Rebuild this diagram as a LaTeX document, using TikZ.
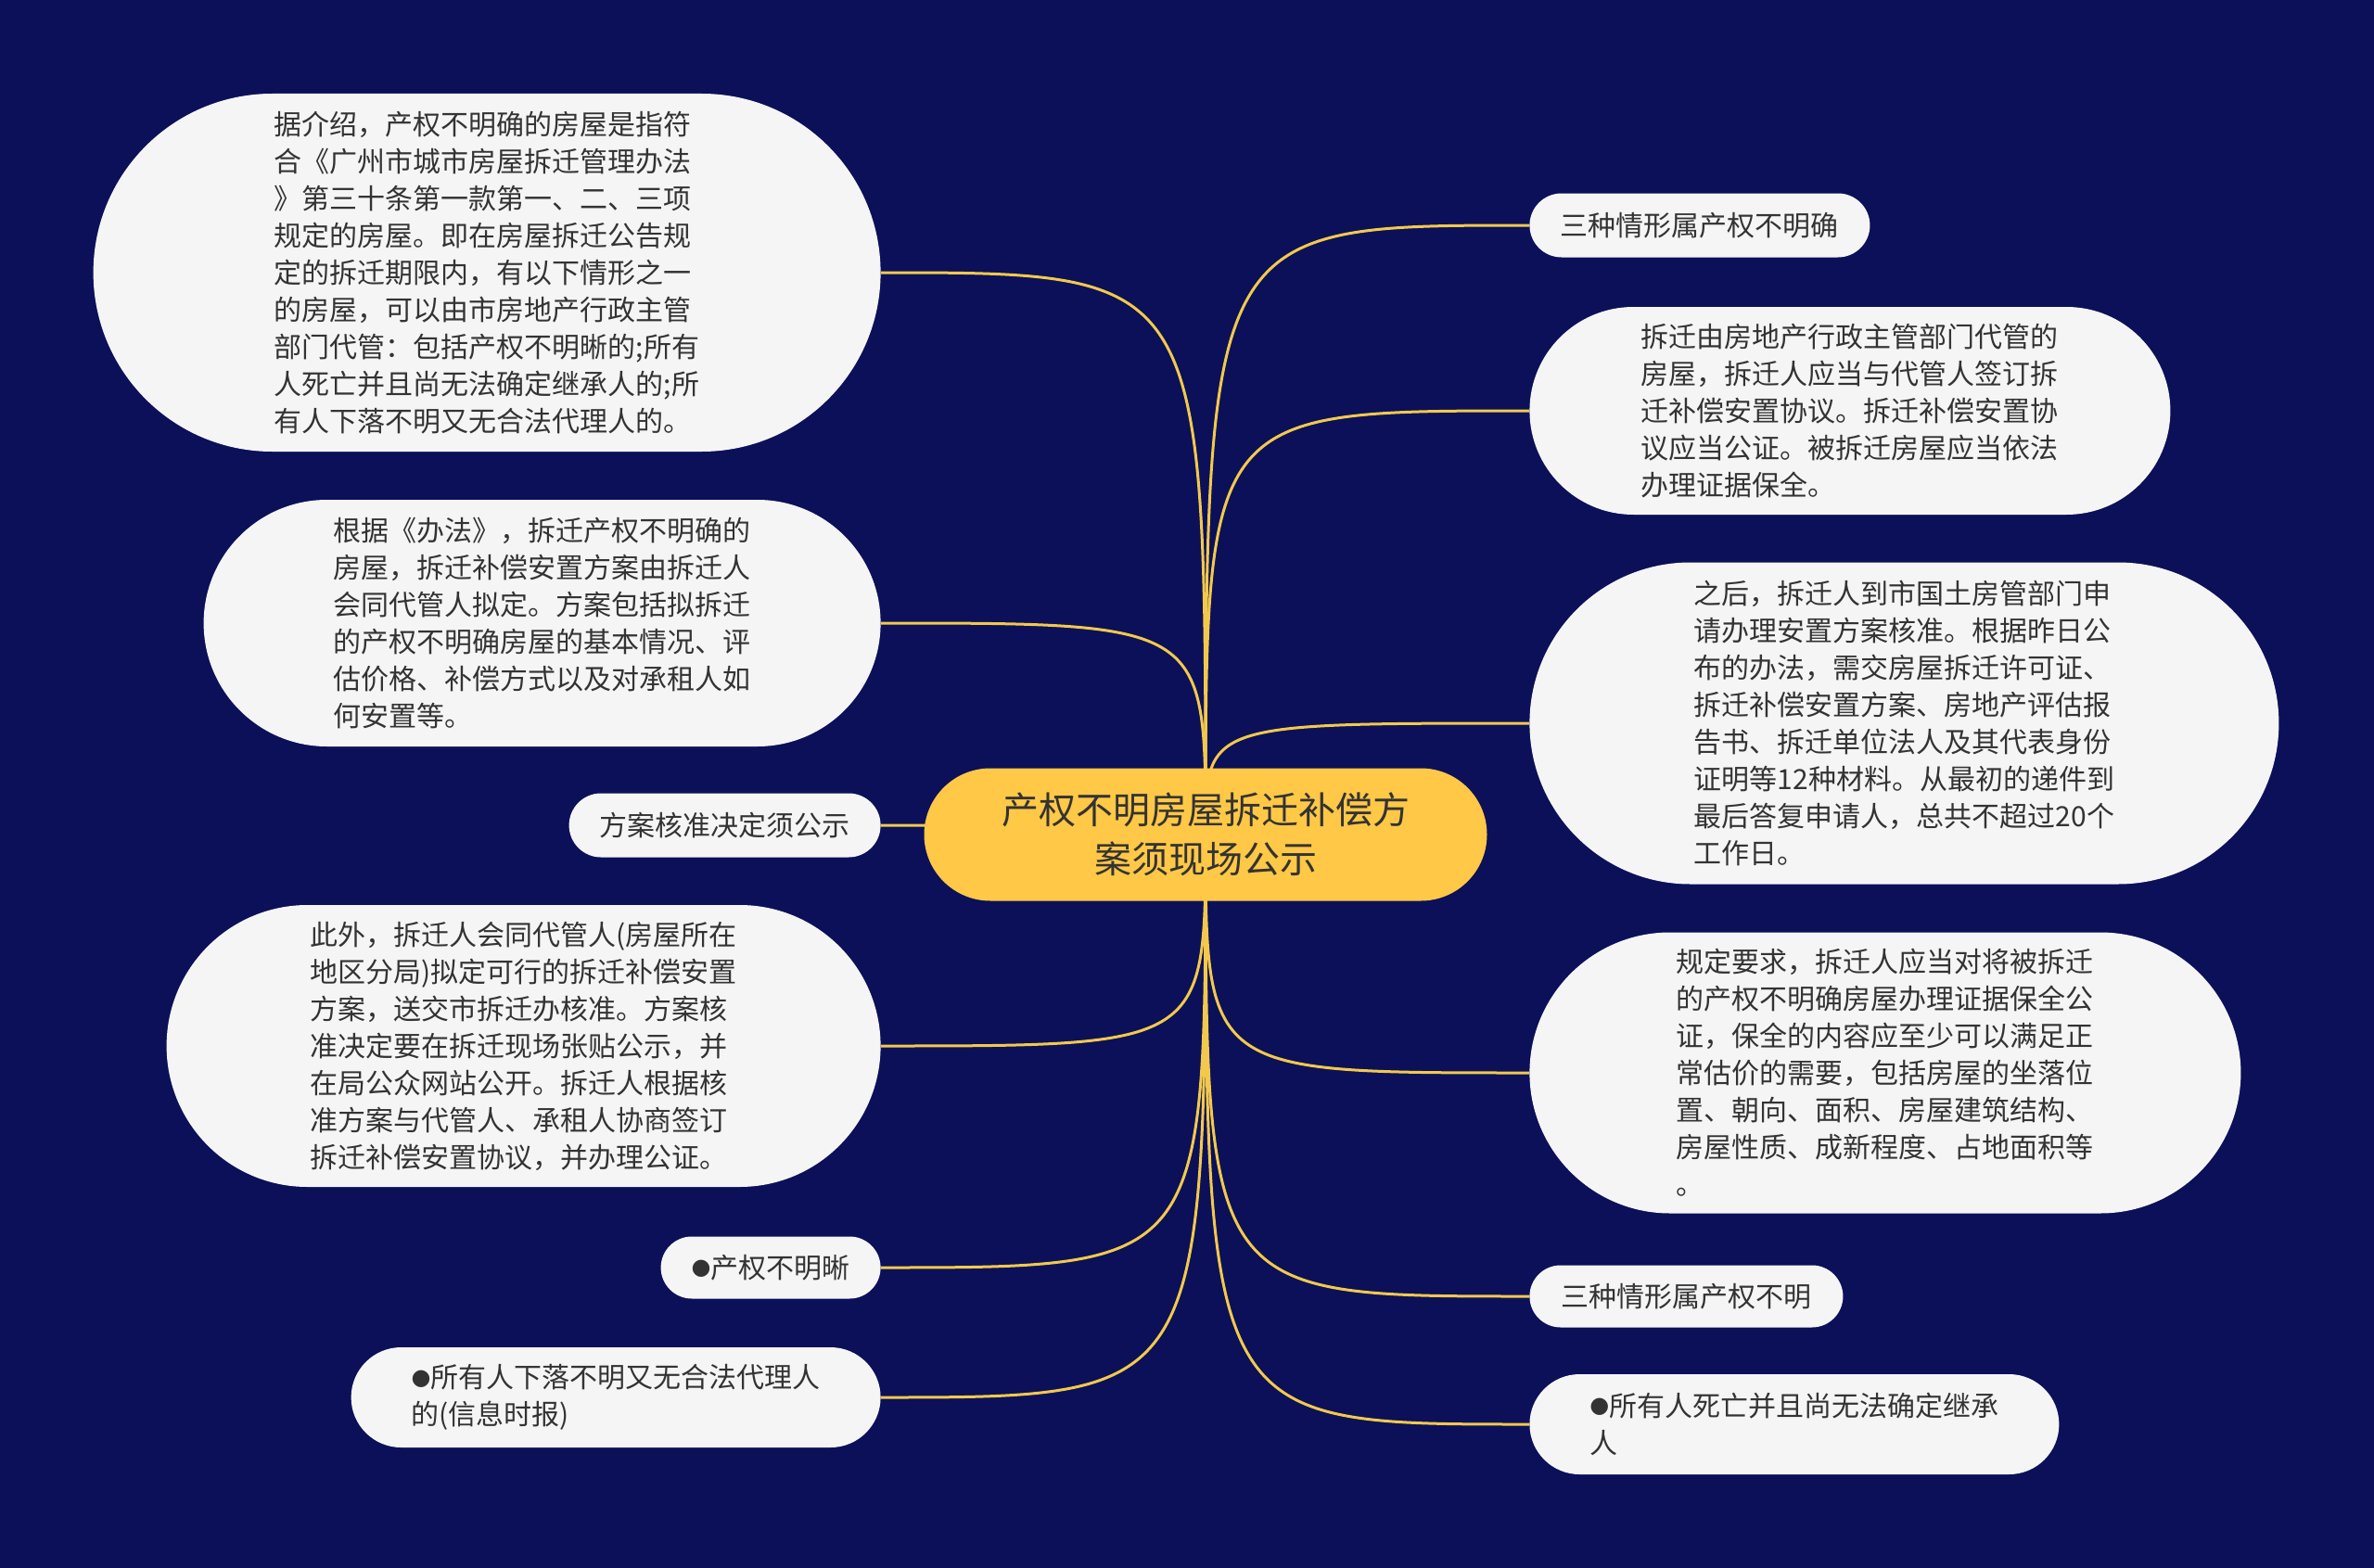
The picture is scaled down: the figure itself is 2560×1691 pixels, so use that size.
\documentclass[tikz,border=0pt]{standalone}
\usepackage{fontspec}
\setmainfont{Noto Sans CJK SC}
\newfontfamily\dotfont{DejaVu Sans}
\usetikzlibrary{shapes.misc,backgrounds}

\definecolor{cFondo}{HTML}{0B1059}
\definecolor{cRaiz}{HTML}{FFC846}
\definecolor{cHoja}{HTML}{F5F5F5}
\definecolor{cTinta}{HTML}{333333}
\definecolor{cRama}{HTML}{F2C94C}

\newcommand{\punto}{\raisebox{1.8pt}{\dotfont\fontsize{12}{20}\selectfont ●}}

\begin{document}
\begin{tikzpicture}[x=0.5pt, y=-0.5pt,
    central/.style={rounded rectangle, fill=cRaiz, text=cTinta, align=center, inner sep=0pt,
        font=\fontsize{20}{26.5}\selectfont},
    hoja/.style={rounded rectangle, fill=cHoja, text=cTinta, align=left, inner sep=0pt,
        font=\fontsize{15}{20}\selectfont},
    rama/.style={cRama, line width=1.5pt}]
    \useasboundingbox (0,0) rectangle (2560,1691);

    % Nodo central
    \node[central, minimum width=303.5pt, minimum height=71.5pt] (raiz) at (1300,900)
        {产权不明房屋拆迁补偿方\\案须现场公示};

    % Ramas izquierdas
    \node[hoja, anchor=east, minimum width=424.5pt, minimum height=193pt] (l1) at (950,294)
        {据介绍，产权不明确的房屋是指符\\合《广州市城市房屋拆迁管理办法\\》第三十条第一款第一、二、三项\\规定的房屋。即在房屋拆迁公告规\\定的拆迁期限内，有以下情形之一\\的房屋，可以由市房地产行政主管\\部门代管：包括产权不明晰的;所有\\人死亡并且尚无法确定继承人的;所\\有人下落不明又无合法代理人的。};
    \node[hoja, anchor=east, minimum width=365pt, minimum height=133pt] (l2) at (950,672)
        {根据《办法》，拆迁产权不明确的\\房屋，拆迁补偿安置方案由拆迁人\\会同代管人拟定。方案包括拟拆迁\\的产权不明确房屋的基本情况、评\\估价格、补偿方式以及对承租人如\\何安置等。};
    \node[hoja, anchor=east, minimum width=168pt, minimum height=34.5pt] (l3) at (950,890)
        {方案核准决定须公示};
    \node[hoja, anchor=east, minimum width=385pt, minimum height=152pt] (l4) at (950,1128)
        {此外，拆迁人会同代管人(房屋所在\\地区分局)拟定可行的拆迁补偿安置\\方案，送交市拆迁办核准。方案核\\准决定要在拆迁现场张贴公示，并\\在局公众网站公开。拆迁人根据核\\准方案与代管人、承租人协商签订\\拆迁补偿安置协议，并办理公证。};
    \node[hoja, anchor=east, minimum width=118.5pt, minimum height=33.5pt] (l5) at (950,1367)
        {\punto 产权不明晰};
    \node[hoja, anchor=east, minimum width=285.5pt, minimum height=54pt] (l6) at (950,1507)
        {\punto 所有人下落不明又无合法代理人\\的(信息时报)};

    % Ramas derechas
    \node[hoja, anchor=west, minimum width=183.5pt, minimum height=34.5pt] (r1) at (1649,243)
        {三种情形属产权不明确};
    \node[hoja, anchor=west, minimum width=345.5pt, minimum height=112pt] (r2) at (1649,443)
        {拆迁由房地产行政主管部门代管的\\房屋，拆迁人应当与代管人签订拆\\迁补偿安置协议。拆迁补偿安置协\\议应当公证。被拆迁房屋应当依法\\办理证据保全。};
    \node[hoja, anchor=west, minimum width=404pt, minimum height=173.5pt] (r3) at (1649,780)
        {之后，拆迁人到市国土房管部门申\\请办理安置方案核准。根据昨日公\\布的办法，需交房屋拆迁许可证、\\拆迁补偿安置方案、房地产评估报\\告书、拆迁单位法人及其代表身份\\证明等12种材料。从最初的递件到\\最后答复申请人，总共不超过20个\\工作日。};
    \node[hoja, anchor=west, minimum width=383.5pt, minimum height=151.5pt] (r4) at (1649,1157)
        {规定要求，拆迁人应当对将被拆迁\\的产权不明确房屋办理证据保全公\\证，保全的内容应至少可以满足正\\常估价的需要，包括房屋的坐落位\\置、朝向、面积、房屋建筑结构、\\房屋性质、成新程度、占地面积等\\。};
    \node[hoja, anchor=west, minimum width=169pt, minimum height=33.5pt] (r5) at (1649,1398)
        {三种情形属产权不明};
    \node[hoja, anchor=west, minimum width=285.5pt, minimum height=54pt] (r6) at (1649,1536)
        {\punto 所有人死亡并且尚无法确定继承\\人};

    % Fondo y conectores
    \begin{scope}[on background layer]
        \fill[cFondo] (0,0) rectangle (2560,1691);
        \foreach \h in {l1,l2,l3,l4,l5,l6}
            \draw[rama] (raiz.center) .. controls (raiz.center |- \h.east) .. (\h.east);
        \foreach \h in {r1,r2,r3,r4,r5,r6}
            \draw[rama] (raiz.center) .. controls (raiz.center |- \h.west) .. (\h.west);
    \end{scope}
\end{tikzpicture}
\end{document}
